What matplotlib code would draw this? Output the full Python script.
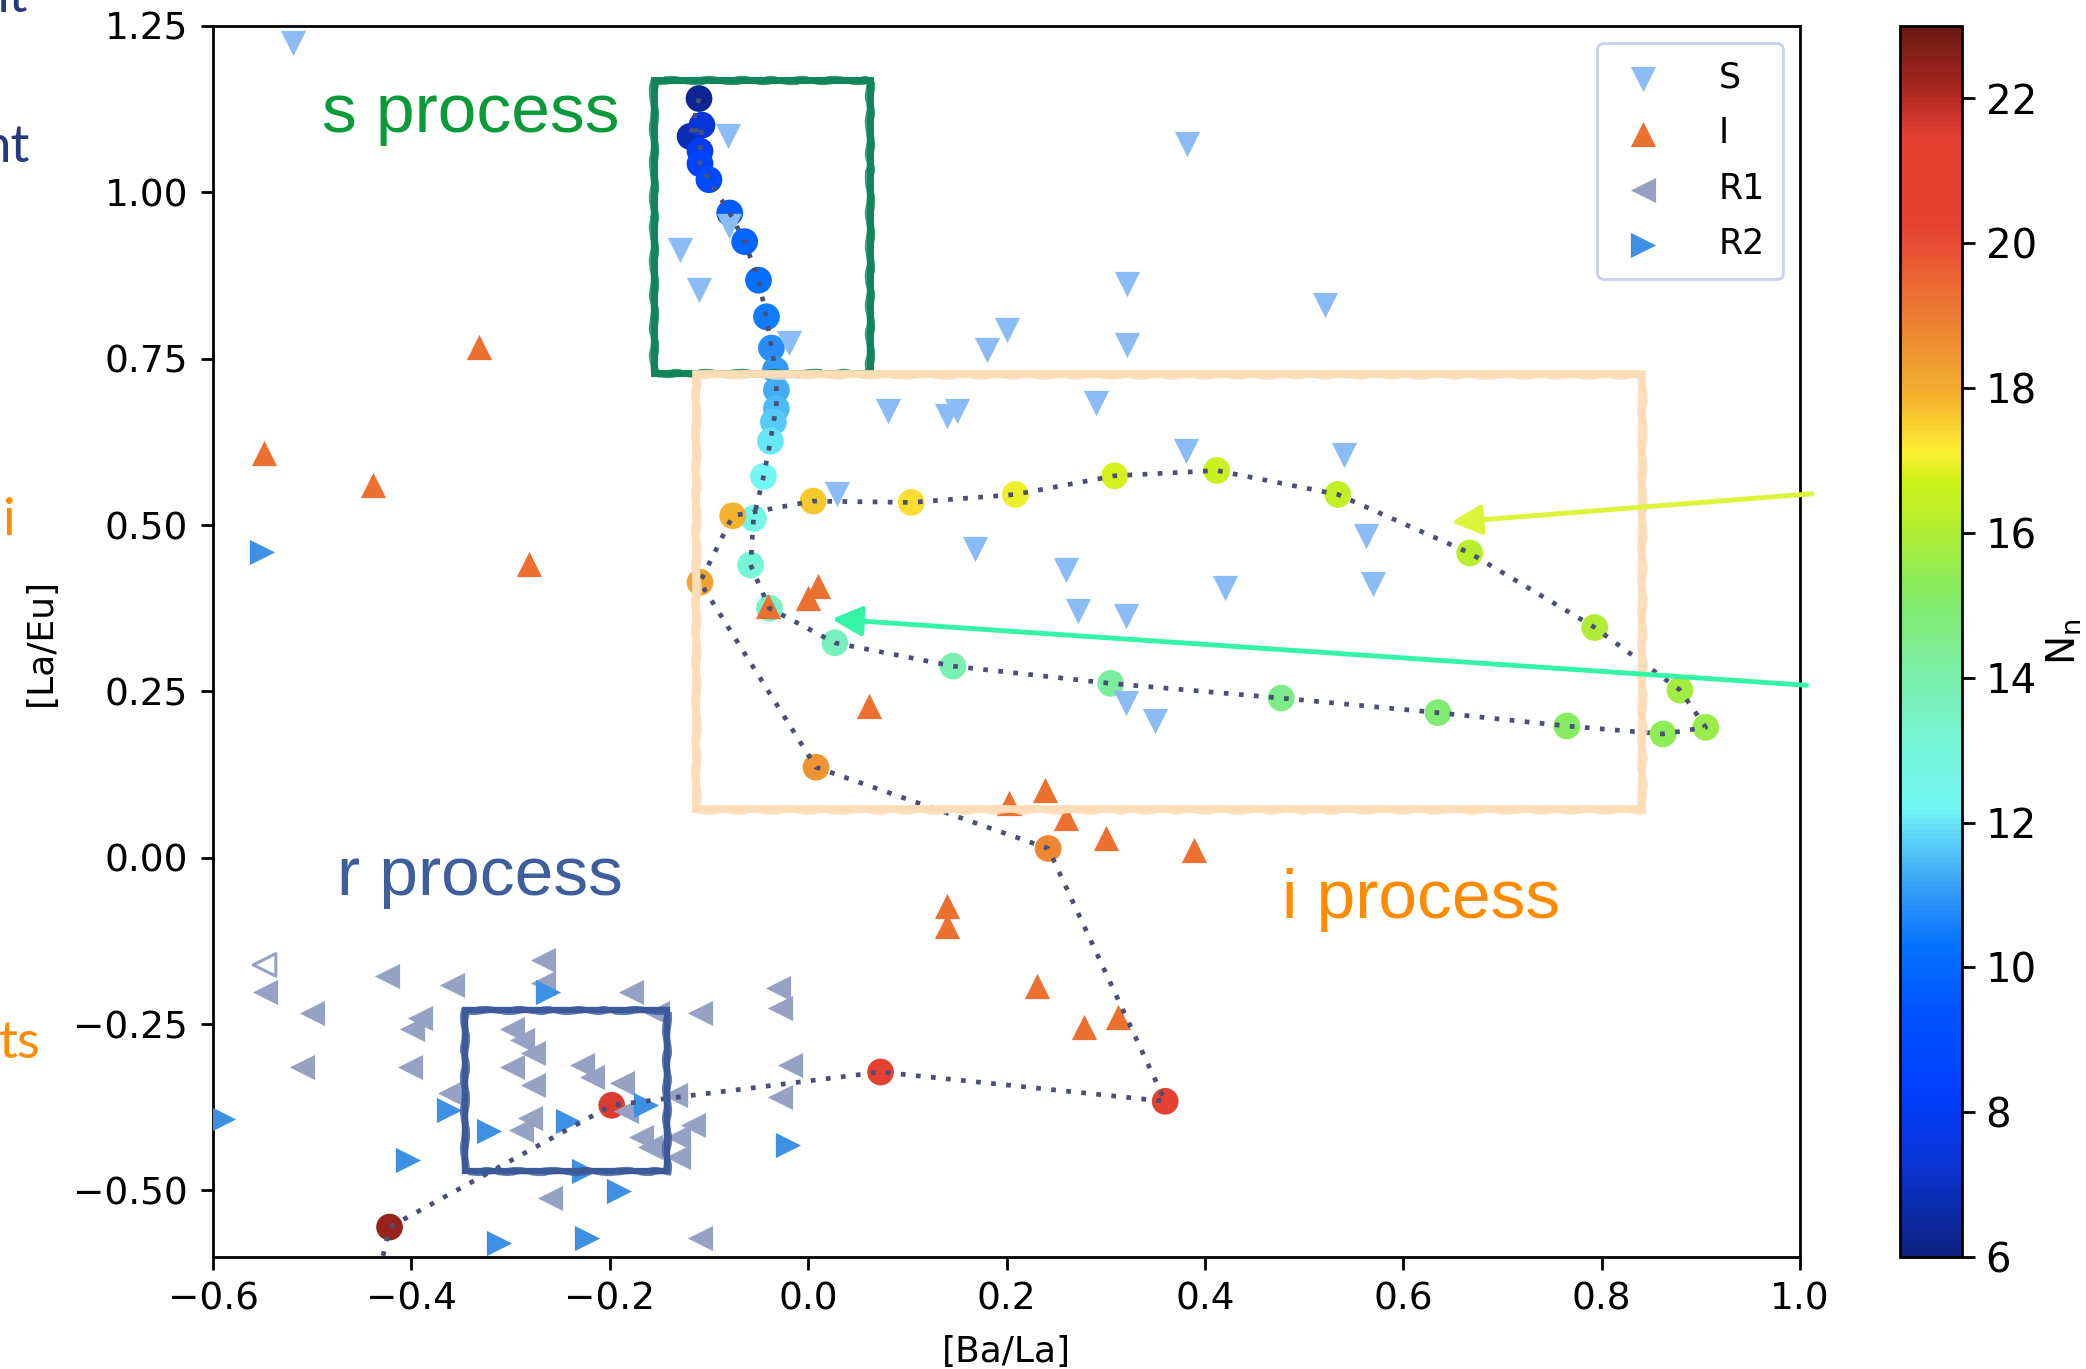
import numpy as np
import matplotlib
matplotlib.use('Agg')
import matplotlib.pyplot as plt
import matplotlib.transforms as mtransforms
from matplotlib.colors import LinearSegmentedColormap
from matplotlib.patches import Rectangle
from matplotlib.ticker import FuncFormatter

# ---------------------------------------------------------------
# model track ([Ba/La], [La/Eu]) coloured by neutron density N_n
track_ba = [-0.110, -0.119, -0.107, -0.109, -0.109, -0.100, -0.079, -0.064,
            -0.050, -0.042, -0.037, -0.033, -0.032, -0.032, -0.035, -0.038,
            -0.045, -0.055, -0.058, -0.039, 0.027, 0.146, 0.305, 0.477,
            0.635, 0.765, 0.862, 0.905, 0.879, 0.793, 0.667, 0.534,
            0.412, 0.309, 0.209, 0.104, 0.005, -0.076, -0.109, 0.008,
            0.242, 0.360, 0.073, -0.198, -0.422, -0.438]
track_la = [1.141, 1.084, 1.101, 1.062, 1.043, 1.019, 0.969, 0.926,
            0.868, 0.813, 0.766, 0.733, 0.703, 0.675, 0.655, 0.626,
            0.573, 0.510, 0.440, 0.375, 0.323, 0.288, 0.262, 0.240,
            0.218, 0.198, 0.186, 0.196, 0.252, 0.346, 0.458, 0.546,
            0.582, 0.574, 0.546, 0.534, 0.536, 0.514, 0.414, 0.136,
            0.014, -0.366, -0.322, -0.372, -0.555, -0.660]
track_nn = [6.3, 6.8, 7.4, 8.0, 8.5, 8.9, 9.6, 9.9,
            10.2, 10.5, 10.8, 11.0, 11.3, 11.5, 11.7, 12.0,
            12.3, 12.6, 13.1, 13.4, 13.6, 13.9, 14.2, 14.5,
            14.9, 15.2, 15.4, 15.6, 15.8, 16.0, 16.2, 16.4,
            16.6, 16.8, 17.0, 17.3, 17.6, 17.9, 18.2, 18.5,
            18.8, 20.6, 21.1, 21.6, 22.4, 22.8]

# observed stars
s_ba = [-0.519, -0.081, 0.382, -0.129, -0.080, -0.110, 0.321, 0.521, 0.200,
        0.180, 0.321, -0.019, 0.290, 0.081, 0.140, 0.150, 0.381, 0.540,
        0.029, 0.562, 0.168, 0.420, 0.570, 0.260, 0.272, 0.320, 0.320, 0.350]
s_la = [1.225, 1.085, 1.073, 0.913, 0.949, 0.853, 0.863, 0.831, 0.793,
        0.763, 0.771, 0.773, 0.684, 0.672, 0.664, 0.672, 0.612, 0.605,
        0.546, 0.484, 0.464, 0.405, 0.412, 0.433, 0.371, 0.363, 0.233, 0.206]

i_ba = [-0.549, -0.439, -0.332, -0.281, -0.040, 0.000, 0.010, 0.061, 0.203,
        0.239, 0.260, 0.300, 0.389, 0.140, 0.140, 0.231, 0.278, 0.312]
i_la = [0.608, 0.560, 0.768, 0.441, 0.378, 0.390, 0.408, 0.228, 0.082,
        0.102, 0.060, 0.030, 0.012, -0.073, -0.103, -0.193, -0.255, -0.240]

r1_ba = [-0.548, -0.500, -0.425, -0.359, -0.267, -0.267, -0.391, -0.399,
         -0.510, -0.401, -0.179, -0.109, -0.030, -0.028, -0.018, -0.028,
         -0.299, -0.288, -0.277, -0.299, -0.277, -0.228, -0.218, -0.188,
         -0.280, -0.289, -0.184, -0.168, -0.159, -0.134, -0.131, -0.131,
         -0.116, -0.152, -0.260, -0.109, -0.361]
r1_la = [-0.201, -0.233, -0.178, -0.191, -0.153, -0.188, -0.241, -0.258,
         -0.314, -0.314, -0.201, -0.233, -0.196, -0.226, -0.311, -0.359,
         -0.258, -0.274, -0.294, -0.314, -0.341, -0.311, -0.329, -0.339,
         -0.391, -0.409, -0.381, -0.419, -0.434, -0.356, -0.419, -0.449,
         -0.401, -0.233, -0.511, -0.571, -0.354]
r1_open_ba = [-0.548]
r1_open_la = [-0.161]

r2_ba = [-0.551, -0.262, -0.362, -0.322, -0.242, -0.163, -0.403, -0.226,
         -0.191, -0.312, -0.223, -0.020, -0.590]
r2_la = [0.460, -0.201, -0.379, -0.411, -0.396, -0.371, -0.454, -0.471,
         -0.501, -0.579, -0.571, -0.431, -0.392]

# colour scale
cb_vals = [6.0, 7.2, 8.3, 9.4, 10.3, 11.0, 11.7, 12.2, 13.2, 14.1, 15.2,
           16.05, 16.7, 17.15, 17.8, 18.7, 19.5, 20.3, 21.5, 22.2, 23.0]
cb_cols = [(0.05, 0.13, 0.50), (0.04, 0.20, 0.82), (0.00, 0.25, 1.00),
           (0.00, 0.33, 1.00), (0.02, 0.45, 1.00), (0.20, 0.60, 0.97),
           (0.35, 0.80, 0.97), (0.45, 0.97, 0.96), (0.47, 0.96, 0.83),
           (0.48, 0.93, 0.65), (0.52, 0.92, 0.38), (0.70, 0.93, 0.20),
           (0.80, 0.95, 0.10), (1.00, 0.93, 0.20), (0.96, 0.72, 0.18),
           (0.93, 0.55, 0.20), (0.92, 0.40, 0.20), (0.90, 0.25, 0.20),
           (0.90, 0.25, 0.20), (0.65, 0.15, 0.12), (0.42, 0.10, 0.08)]
vmin, vmax = 6, 23
cmap = LinearSegmentedColormap.from_list(
    'nn', [((v - vmin) / (vmax - vmin), c) for v, c in zip(cb_vals, cb_cols)])

# ---------------------------------------------------------------
W, H = 2086, 1369
fig = plt.figure(figsize=(W / 100, H / 100), dpi=100)
ax = fig.add_axes([213 / W, 1 - 1257 / H, (1800 - 213) / W, (1257 - 26) / H])
cax = fig.add_axes([1900 / W, 1 - 1257 / H, 62 / W, (1257 - 26) / H])

TICK = 27
msz = 330

sc = ax.scatter(track_ba, track_la, c=track_nn, cmap=cmap, vmin=vmin, vmax=vmax,
                s=370, marker='o', linewidths=0, zorder=2)
ax.scatter(s_ba, s_la, marker='v', s=msz, color='#8cbcf5', lw=0, zorder=3, label='S')
ax.scatter(i_ba, i_la, marker='^', s=msz, color='#ec7030', lw=0, zorder=3, label='I')
ax.scatter(r1_ba, r1_la, marker='<', s=msz, color='#96a2c4', lw=0, zorder=3, label='R1')
ax.scatter(r2_ba, r2_la, marker='>', s=msz, color='#3e90e4', lw=0, zorder=3, label='R2')
ax.scatter(r1_open_ba, r1_open_la, marker='<', s=msz * 0.8, facecolors='none',
           edgecolors='#96a2c4', lw=2.2, zorder=3)
ax.plot(track_ba, track_la, color='#4a5075', lw=3.4, ls=(0, (1, 2.2)), zorder=4)

ax.set_xlim(-0.6, 1.0)
ax.set_ylim(-0.6, 1.25)
ax.set_xticks(np.arange(-0.6, 1.01, 0.2))
ax.set_yticks(np.arange(-0.5, 1.26, 0.25))
ax.xaxis.set_major_formatter(FuncFormatter(lambda v, p: f'{v:.1f}'.replace('-', '\u2212')))
ax.yaxis.set_major_formatter(FuncFormatter(lambda v, p: f'{v:.2f}'.replace('-', '\u2212')))
ax.tick_params(labelsize=TICK, length=9, width=2, pad=9)
for sp in ax.spines.values():
    sp.set_linewidth(2)
ax.set_xlabel('[Ba/La]', fontsize=26, labelpad=12)
ax.set_ylabel('[La/Eu]', fontsize=26, labelpad=11)

leg = ax.legend(loc='upper right', fontsize=25, labelspacing=0.62,
                handletextpad=1.4, handlelength=1.6, borderpad=0.5,
                fancybox=True, framealpha=1, edgecolor='#c9d1f0')
leg.get_frame().set_linewidth(2)

cb = fig.colorbar(sc, cax=cax)
cb.set_ticks([6, 8, 10, 12, 14, 16, 18, 20, 22])
cb.ax.tick_params(labelsize=29, length=9, width=2, pad=8)
cb.outline.set_linewidth(2)
cb.set_label(r'$\mathrm{N_n}$', fontsize=28, labelpad=6)


# ---------------------------------------------------------------
# hand drawn boxes and arrows from the slide
def sketch_box(x0, y0, x1, y1, color, lw):
    strokes = [(0, 0, lw, 1.0), (-3, 2, lw * 0.35, 0.8), (3, -3, lw * 0.35, 0.8)]
    for dx, dy, w, a in strokes:
        tr = mtransforms.offset_copy(ax.transData, fig=fig, x=dx, y=dy, units='dots')
        r = Rectangle((x0, y0), x1 - x0, y1 - y0, fill=False, ec=color, lw=w,
                      alpha=a, transform=tr, zorder=5, clip_on=False)
        if w < lw:
            r.set_sketch_params(1.0, 40, 3)
        ax.add_patch(r)


sketch_box(-0.155, 0.729, 0.0625, 1.169, '#11855a', 5)
sketch_box(-0.113, 0.073, 0.8406, 0.7273, '#fddcb8', 5.5)
sketch_box(-0.3456, -0.4714, -0.1424, -0.2284, '#3c5a9a', 4.5)

arrow = '-|>,head_length=0.7,head_width=0.35'
ax.annotate('', xy=(0.6485, 0.5044), xytext=(1.012, 0.547),
            arrowprops=dict(arrowstyle=arrow, color='#dcf53a', lw=3.5,
                            mutation_scale=26, shrinkA=0, shrinkB=0),
            annotation_clip=False, zorder=6)
ax.annotate('', xy=(0.0239, 0.3587), xytext=(1.0066, 0.2592),
            arrowprops=dict(arrowstyle=arrow, color='#33f5a5', lw=3.5,
                            mutation_scale=26, shrinkA=0, shrinkB=0),
            annotation_clip=False, zorder=6)

fig.text(322 / W, 1 - 132 / H, 's process', fontsize=50, color='#0a9a3a',
         family='Liberation Sans', ha='left', va='baseline')
fig.text(337 / W, 1 - 895 / H, 'r process', fontsize=50, color='#3f5e9c',
         family='Liberation Sans', ha='left', va='baseline')
fig.text(1282 / W, 1 - 918 / H, 'i process', fontsize=50, color='#ff8c00',
         family='Liberation Sans', ha='left', va='baseline')

# slide text running off the left edge (cut in the original too)
fig.text(28 / W, 1 - 12 / H, 'nt', fontsize=38, color='#243a7c', family='Lato',
         ha='right', va='baseline')
fig.text(30 / W, 1 - 162 / H, 'nt', fontsize=38, color='#243a7c', family='Lato',
         ha='right', va='baseline')
fig.text(16 / W, 1 - 535 / H, 'i', fontsize=38, color='#ff8c00', family='Lato',
         ha='right', va='baseline')
fig.text(40 / W, 1 - 1058 / H, 'ts', fontsize=38, color='#ff8c00', family='Lato',
         ha='right', va='baseline')

fig.savefig('out.png', dpi=100)
